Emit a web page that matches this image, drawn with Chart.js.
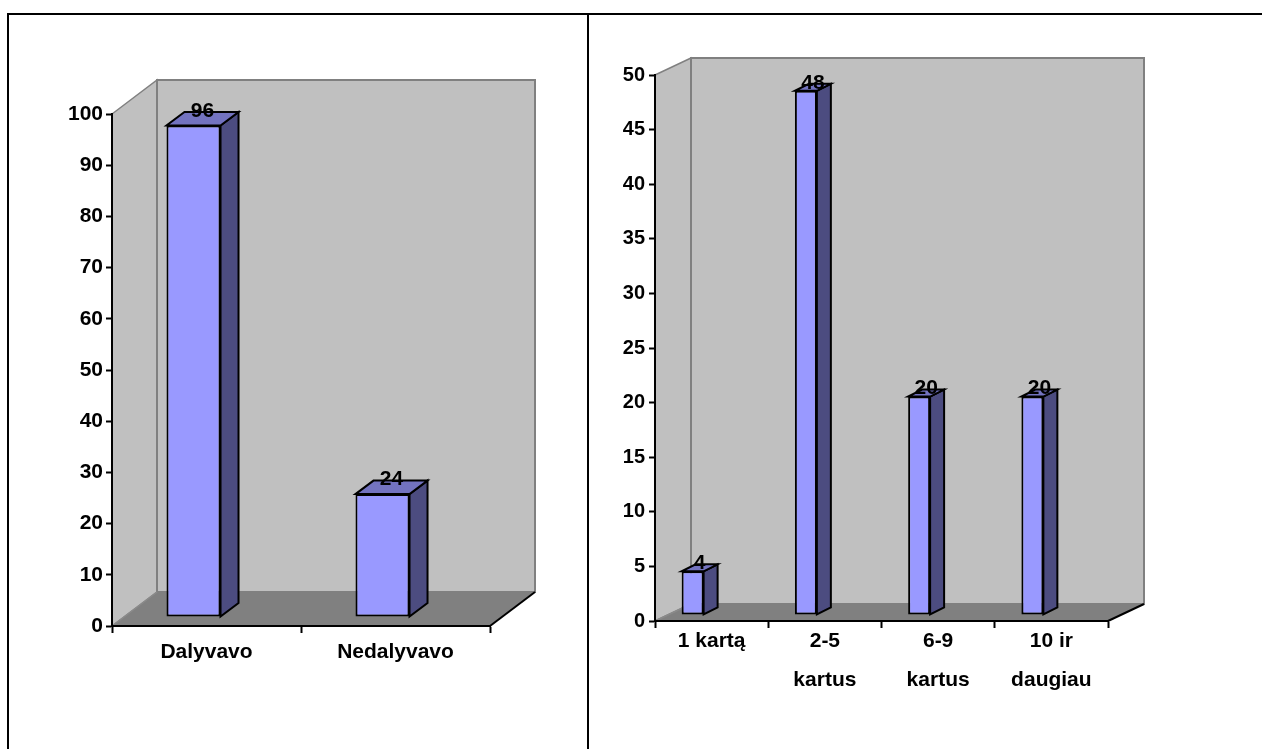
<!DOCTYPE html>
<html>
<head>
<meta charset="utf-8">
<script src="https://cdn.jsdelivr.net/npm/chart.js@4.4.0/dist/chart.umd.min.js"></script>
<style>
  html, body { margin: 0; padding: 0; background: #fff; width: 1262px; height: 749px; overflow: hidden; }
  body { position: relative; }
  canvas { position: absolute; top: 0; }
  .rule { position: absolute; background: #000; }
</style>
</head>
<body>
<div class="rule" style="left:7px;top:13px;width:1255px;height:2px"></div>
<div class="rule" style="left:7px;top:13px;width:2px;height:736px"></div>
<div class="rule" style="left:587px;top:13px;width:2px;height:736px"></div>
<canvas id="participation" width="588" height="749" style="left:0"></canvas>
<canvas id="frequency" width="674" height="749" style="left:588px"></canvas>
<script>
// Survey answers: took part or not
const participationLabels = ['Dalyvavo', 'Nedalyvavo'];
const participationValues = [96, 24];
const participationMax = 100;
const participationStep = 10;

// How many times
const frequencyLabels = [['1 kartą'], ['2-5', 'kartus'], ['6-9', 'kartus'], ['10 ir', 'daugiau']];
const frequencyValues = [4, 48, 20, 20];
const frequencyMax = 50;
const frequencyStep = 5;

const FONT_FAMILY = '"Liberation Sans", Arial, Helvetica, sans-serif';

function poly(ctx, pts, fill, stroke, lw) {
  ctx.beginPath();
  ctx.moveTo(pts[0][0], pts[0][1]);
  for (let i = 1; i < pts.length; i++) ctx.lineTo(pts[i][0], pts[i][1]);
  ctx.closePath();
  if (fill) { ctx.fillStyle = fill; ctx.fill(); }
  if (stroke) { ctx.strokeStyle = stroke; ctx.lineWidth = lw; ctx.stroke(); }
}

function seg(ctx, x1, y1, x2, y2, color, lw) {
  ctx.beginPath();
  ctx.moveTo(x1, y1);
  ctx.lineTo(x2, y2);
  ctx.strokeStyle = color;
  ctx.lineWidth = lw;
  ctx.stroke();
}

// Walls, floor and the depth faces of the columns
const box3d = {
  id: 'box3d',
  beforeDraw(chart, args, o) {
    const ctx = chart.ctx;
    const xs = chart.scales.x, ys = chart.scales.y;
    const L = xs.left, R = xs.right;
    const T = ys.getPixelForValue(ys.max), B = ys.getPixelForValue(ys.min);
    const [dx, dy] = o.wall;
    ctx.save();
    ctx.lineJoin = 'miter';
    poly(ctx, [[L, T], [L + dx, T + dy], [L + dx, B + dy], [L, B]], '#C0C0C0', '#808080', 1.5);
    poly(ctx, [[L + dx, T + dy], [R + dx, T + dy], [R + dx, B + dy], [L + dx, B + dy]], '#C0C0C0', '#808080', 2);
    poly(ctx, [[L, B], [R, B], [R + dx, B + dy], [L + dx, B + dy]], '#808080', null, 0);
    seg(ctx, L, B, L + dx, B + dy, '#8a8a8a', 1.5);
    seg(ctx, R, B, R + dx, B + dy, '#000', 2);
    ctx.restore();
  },
  beforeDatasetsDraw(chart, args, o) {
    chart.ctx.save();
    chart.ctx.translate(o.shift[0], o.shift[1]);
  },
  afterDatasetsDraw(chart, args, o) {
    const ctx = chart.ctx;
    const [bx, by] = o.depth;
    const values = chart.data.datasets[0].data;
    ctx.lineJoin = 'miter';
    chart.getDatasetMeta(0).data.forEach((bar, i) => {
      const p = bar.getProps(['x', 'y', 'base', 'width'], true);
      const l = p.x - p.width / 2, r = p.x + p.width / 2;
      poly(ctx, [[r, p.y], [r + bx, p.y + by], [r + bx, p.base + by], [r, p.base]], o.side, '#000', 2);
      poly(ctx, [[l, p.y], [r, p.y], [r + bx, p.y + by], [l + bx, p.y + by]], o.top, '#000', 2);
      ctx.fillStyle = '#000';
      ctx.font = 'bold ' + o.labelSize + 'px ' + FONT_FAMILY;
      ctx.textAlign = 'center';
      ctx.textBaseline = 'middle';
      ctx.fillText(String(values[i]), p.x + bx / 2, p.y + by - 1);
    });
    ctx.restore();
  }
};

function makeChart(id, cfg) {
  return new Chart(document.getElementById(id), {
    type: 'bar',
    data: {
      labels: cfg.labels,
      datasets: [{
        data: cfg.values,
        backgroundColor: '#9999FF',
        borderColor: '#000',
        borderWidth: 2,
        borderSkipped: false,
        barPercentage: cfg.barPct,
        categoryPercentage: 1,
        clip: false
      }]
    },
    options: {
      responsive: false,
      animation: false,
      devicePixelRatio: 1,
      events: [],
      layout: { padding: cfg.padding },
      plugins: {
        legend: { display: false },
        tooltip: { enabled: false },
        box3d: {
          wall: cfg.wall,
          shift: cfg.shift,
          depth: cfg.depth,
          side: '#4C4C80',
          top: '#7373C0',
          labelSize: cfg.valueSize
        }
      },
      scales: {
        x: {
          afterFit(s) { s.height = cfg.xHeight; },
          grid: { offset: true, drawOnChartArea: false, drawTicks: true, tickLength: 7, tickColor: '#000', tickWidth: 2 },
          border: { display: true, color: '#000', width: 2 },
          ticks: {
            color: '#000',
            padding: cfg.xPad,
            maxRotation: 0,
            autoSkip: false,
            font: { family: FONT_FAMILY, size: cfg.xSize, weight: 'bold', lineHeight: cfg.xLine }
          }
        },
        y: {
          min: 0,
          max: cfg.max,
          afterFit(s) { s.width = cfg.yWidth; },
          grid: { drawOnChartArea: false, drawTicks: true, tickLength: 6, tickColor: '#000', tickWidth: 2 },
          border: { display: true, color: '#000', width: 2 },
          ticks: {
            stepSize: cfg.step,
            color: '#000',
            padding: cfg.yPad,
            font: { family: FONT_FAMILY, size: cfg.ySize, weight: 'bold' }
          }
        }
      }
    },
    plugins: [box3d]
  });
}

makeChart('participation', {
  labels: participationLabels,
  values: participationValues,
  max: participationMax,
  step: participationStep,
  barPct: 0.286,
  padding: { left: 52, top: 114, right: 98, bottom: 43 },
  yWidth: 60,
  xHeight: 80,
  wall: [45, -34],
  shift: [-13, -9],
  depth: [18, -13.5],
  valueSize: 21,
  xSize: 21, xLine: 1.2, xPad: 7,
  ySize: 21, yPad: 3
});

makeChart('frequency', {
  labels: frequencyLabels,
  values: frequencyValues,
  max: frequencyMax,
  step: frequencyStep,
  barPct: 0.194,
  padding: { left: 12, top: 75, right: 154, bottom: 38 },
  yWidth: 55,
  xHeight: 90,
  wall: [36, -17],
  shift: [-19, -6],
  depth: [14, -7],
  valueSize: 21,
  xSize: 21, xLine: 1.86, xPad: -6,
  ySize: 20, yPad: 4
});
</script>
</body>
</html>
